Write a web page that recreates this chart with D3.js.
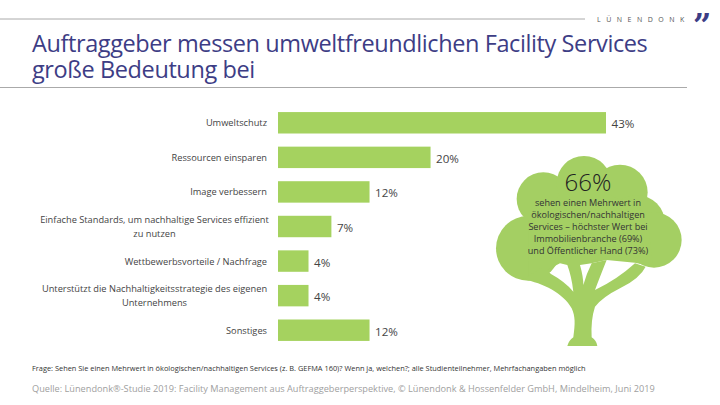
<!DOCTYPE html>
<html>
<head>
<meta charset="utf-8">
<script src="https://cdnjs.cloudflare.com/ajax/libs/d3/7.8.5/d3.min.js"></script>
<style>
  html, body { margin: 0; padding: 0; background: #fff; }
  svg { display: block; font-family: "Open Sans", sans-serif; }
</style>
</head>
<body>
<div id="chart"></div>
<script>
const titleLines = ['Auftraggeber messen umweltfreundlichen Facility Services', 'große Bedeutung bei'];
const categories = [
  'Umweltschutz',
  'Ressourcen einsparen',
  'Image verbessern',
  'Einfache Standards, um nachhaltige Services effizient|zu nutzen',
  'Wettbewerbsvorteile / Nachfrage',
  'Unterstützt die Nachhaltigkeitsstrategie des eigenen|Unternehmens',
  'Sonstiges',
];
const values = [43, 20, 12, 7, 4, 4, 12];
const calloutLines = [
  'sehen einen Mehrwert in',
  'ökologischen/nachhaltigen',
  'Services – höchster Wert bei',
  'Immobilienbranche (69%)',
  'und Öffentlicher Hand (73%)',
];
const questionText = 'Frage: Sehen Sie einen Mehrwert in ökologischen/nachhaltigen Services (z. B. GEFMA 160)? Wenn ja, welchen?; alle Studienteilnehmer, Mehrfachangaben möglich';
const sourceText = 'Quelle: Lünendonk®-Studie 2019: Facility Management aus Auftraggeberperspektive, © Lünendonk & Hossenfelder GmbH, Mindelheim, Juni 2019';

const GREEN = '#a5d25f';
const TREE = '#a4cf63';
const NAVY = '#3d3d85';

const svg = d3.select('#chart').append('svg').attr('width', 720).attr('height', 405);

// header
svg.append('line').attr('x1', 0).attr('x2', 585).attr('y1', 19).attr('y2', 19).attr('stroke', '#aaa');
svg.append('text').attr('x', 597).attr('y', 21.5)
  .style('font-size', '7px').style('letter-spacing', '5.5px').style('fill', '#555')
  .text('LÜNENDONK');
svg.append('text').attr('x', 693).attr('y', 36)
  .style('font-family', '"DejaVu Serif"').style('font-weight', 700)
  .style('font-size', '32px').style('fill', NAVY).text('”');

titleLines.forEach((t, i) => {
  svg.append('text').attr('x', 32).attr('y', 52 + i * 26)
    .style('font-size', '23.5px').style('letter-spacing', '-0.4px').style('fill', NAVY).text(t);
});
svg.append('line').attr('x1', 0).attr('x2', 687).attr('y1', 87.5).attr('y2', 87.5).attr('stroke', '#aaa');

// bars
const x = d3.scaleLinear().domain([0, 43]).range([278, 606]);
const y = d3.scaleBand().domain(categories).range([112 - 6.5, 341 + 6.5]).paddingInner(0.38).paddingOuter(0.19);

svg.append('g').selectAll('rect').data(values).join('rect')
  .attr('x', x(0))
  .attr('y', (d, i) => y(categories[i]))
  .attr('width', d => x(d) - x(0))
  .attr('height', y.bandwidth())
  .attr('fill', GREEN);

svg.append('g').selectAll('text').data(values).join('text')
  .attr('x', d => x(d) + 5.5)
  .attr('y', (d, i) => y(categories[i]) + y.bandwidth() / 2 + 5.5)
  .style('font-size', '11.6px').style('fill', '#444')
  .text(d => d + '%');

// category labels: wrapped ones are centred inside a block right-aligned at x=267
const labels = svg.append('g').style('font-size', '9.25px').style('fill', '#444');
categories.forEach(c => {
  const lines = c.split('|');
  const cy = y(c) + y.bandwidth() / 2;
  const t = labels.append('text');
  lines.forEach((l, i) => {
    t.append('tspan')
      .attr('x', lines.length > 1 ? 154.5 : 267)
      .attr('y', cy + 3.5 + (i - (lines.length - 1) / 2) * 13.5)
      .attr('text-anchor', lines.length > 1 ? 'middle' : 'end')
      .text(l);
  });
});

// tree (outline in crop coordinates)
const tree = svg.append('g').attr('transform', 'translate(480,120) scale(0.3333)').attr('fill', TREE);
[[145, 385, 97], [190, 237, 80], [312, 190, 82], [420, 217, 83], [470, 310, 85], [522, 360, 83]]
  .forEach(([cx, cy, r]) => tree.append('circle').attr('cx', cx).attr('cy', cy).attr('r', r));
tree.append('path').attr('d', 'M145,300 L300,180 L500,280 L520,440 L465,428 L380,420 L335,430 L300,435 L262,435 L240,430 L145,480 Z');
tree.append('path').attr('d',
  'M262,678 Q266,662 280,652 C286,610 286,590 275,565 C250,520 190,490 130,478 L190,440 L213,462 ' +
  'Q255,485 280,515 Q275,470 262,435 L300,435 Q310,470 310,495 Q320,460 335,430 L380,420 ' +
  'Q360,470 345,510 Q410,480 465,430 L497,440 Q480,475 420,505 Q370,530 345,560 Q332,600 335,652 ' +
  'Q350,662 352,678 Z');

svg.append('text').attr('x', 588).attr('y', 191).attr('text-anchor', 'middle')
  .style('font-size', '24px').style('font-weight', 300).style('fill', '#222').text('66%');
calloutLines.forEach((l, i) => {
  svg.append('text').attr('x', 588).attr('y', 206 + i * 12.1).attr('text-anchor', 'middle')
    .style('font-size', '9.1px').style('fill', '#333').text(l);
});

// footer
svg.append('text').attr('x', 32).attr('y', 371).style('font-size', '7.4px').style('fill', '#333').text(questionText);
svg.append('text').attr('x', 32).attr('y', 392).style('font-size', '9.2px').style('fill', '#a0a0a0').text(sourceText);
</script>
</body>
</html>
